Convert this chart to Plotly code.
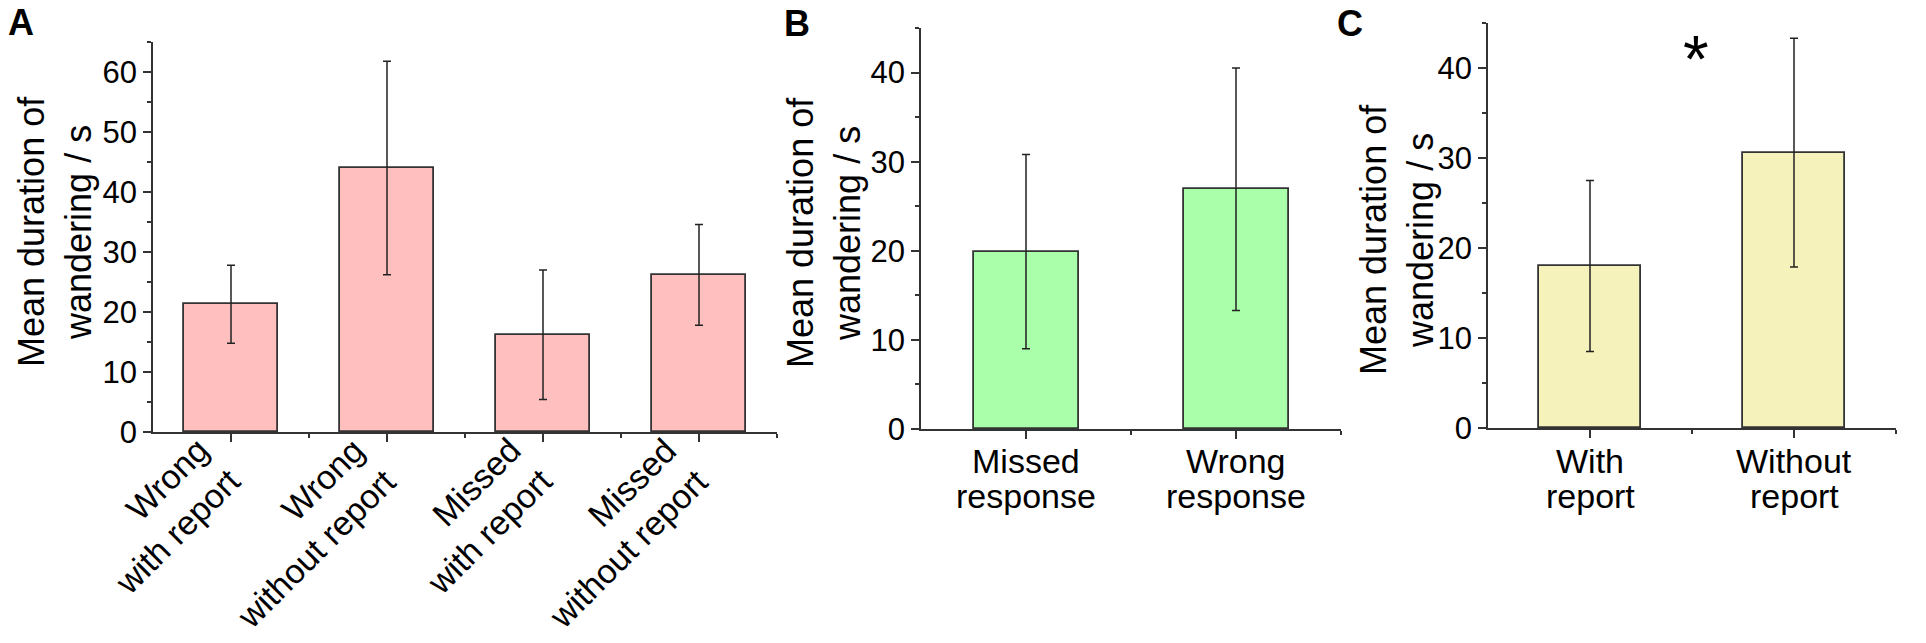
import plotly.graph_objects as go
from plotly.subplots import make_subplots

# panel A
a_labels = ["Wrong<br>with report", "Wrong<br>without report",
            "Missed<br>with report", "Missed<br>without report"]
a_means = [21.3, 44.0, 16.2, 26.2]
a_errs = [6.5, 17.8, 10.8, 8.4]

# panel B
b_labels = ["Missed<br>response", "Wrong<br>response"]
b_means = [19.9, 26.9]
b_errs = [10.9, 13.6]

# panel C
c_labels = ["With<br>report", "Without<br>report"]
c_means = [18.0, 30.6]
c_errs = [9.5, 12.7]

W, H = 1926, 643
FONT = "Liberation Sans, Arial, sans-serif"
AX = "#333333"
Y_TITLE = "Mean duration of<br>wandering / s"

fig = make_subplots(rows=1, cols=3)

panels = [
    (a_labels, a_means, a_errs, "#ffbfbf", 0.6),
    (b_labels, b_means, b_errs, "#aaffaa", 0.5),
    (c_labels, c_means, c_errs, "#f6f2bb", 0.5),
]
for col, (labels, means, errs, color, bw) in enumerate(panels, start=1):
    idx = list(range(len(labels)))
    fig.add_trace(go.Bar(
        x=idx, y=means, width=bw,
        marker=dict(color=color, line=dict(color=AX, width=1.8)),
        error_y=dict(type="data", array=errs, color="#222222", thickness=1.5, width=4),
        showlegend=False,
    ), row=1, col=col)

# px boxes of the three plot areas (left, right, top, bottom)
boxes = [(153, 777, 42, 432), (921, 1341, 28, 429), (1488, 1896, 23, 428)]
yranges = [[0, 65], [0, 45], [0, 45]]

for i, ((l, r, t, b), yr, (labels, *_)) in enumerate(zip(boxes, yranges, panels), start=1):
    n = len(labels)
    xa = "xaxis" if i == 1 else f"xaxis{i}"
    ya = "yaxis" if i == 1 else f"yaxis{i}"
    fig.layout[xa].update(
        domain=[l / W, r / W], range=[-0.5, n - 0.5], automargin=False,
        tickmode="array", tickvals=list(range(n)), ticktext=[""] * n,
        showline=True, linecolor=AX, linewidth=1.5,
        ticks="outside", ticklen=8, tickwidth=1.5, tickcolor=AX,
        minor=dict(tickmode="array", tickvals=[k + 0.5 for k in range(n)],
                   ticks="outside", ticklen=4, tickwidth=1.5, tickcolor=AX),
        showgrid=False, zeroline=False, fixedrange=True,
    )
    fig.layout[ya].update(
        domain=[1 - b / H, 1 - t / H], range=yr, automargin=False,
        tickmode="linear", tick0=0, dtick=10,
        showline=True, linecolor=AX, linewidth=1.5,
        ticks="outside", ticklen=8, tickwidth=1.5, tickcolor=AX,
        minor=dict(dtick=5, ticks="outside", ticklen=4, tickwidth=1.5, tickcolor=AX),
        showgrid=False, zeroline=False, fixedrange=True,
        tickfont=dict(size=31, color="black"),
    )

# rotated category labels for panel A (lines right-aligned)
for k, lab in enumerate(a_labels):
    fig.add_annotation(
        x=k, xref="x", y=1 - 428 / H, yref="paper",
        text=lab, textangle=-45, align="right",
        xanchor="right", yanchor="top", xshift=19, showarrow=False,
        font=dict(size=34, color="black"),
    )

# horizontal two-line category labels for panels B and C (tight line spacing)
for xref, labels in [("x2", b_labels), ("x3", c_labels)]:
    for k, lab in enumerate(labels):
        for line, yc in zip(lab.split("<br>"), (461, 496)):
            fig.add_annotation(
                x=k, xref=xref, y=1 - yc / H, yref="paper",
                text=line, xanchor="center", yanchor="middle", showarrow=False,
                font=dict(size=34, color="black"),
            )

# y axis titles
for xp, yp in [(55, 232), (824, 233), (1397, 240)]:
    fig.add_annotation(
        x=xp / W, y=1 - yp / H, xref="paper", yref="paper",
        text=Y_TITLE, textangle=-90, align="center",
        xanchor="center", yanchor="middle", showarrow=False,
        font=dict(size=36, color="black"),
    )

# panel letters
for letter, xp, yp in [("A", 21, 22), ("B", 797, 23), ("C", 1350, 23)]:
    fig.add_annotation(
        x=xp / W, y=1 - yp / H, xref="paper", yref="paper",
        text=f"<b>{letter}</b>", xanchor="center", yanchor="middle",
        showarrow=False, font=dict(size=36, color="black"),
    )

# significance marker in panel C
fig.add_annotation(
    x=0.52, xref="x3", y=41.0, yref="y3", text="*",
    xanchor="center", yanchor="middle", showarrow=False,
    font=dict(size=66, color="black"),
)

fig.update_layout(
    width=W, height=H,
    margin=dict(l=0, r=0, t=0, b=0),
    paper_bgcolor="white", plot_bgcolor="white",
    font=dict(family=FONT, color="black"),
    bargap=0,
)

# drop the browser's default body margin so the figure sits at the page corner
fig.write_html("out.html", config={"displayModeBar": False},
               post_script="document.body.style.margin = '0';")
